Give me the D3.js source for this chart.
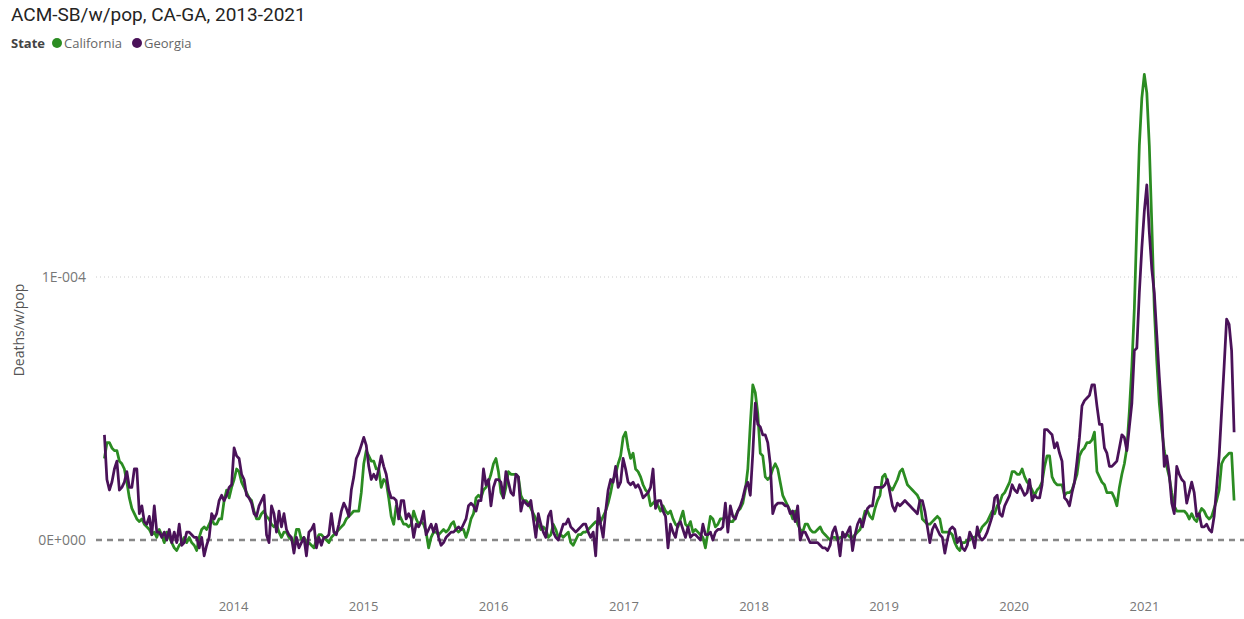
<!DOCTYPE html>
<html>
<head>
<meta charset="utf-8">
<script src="https://cdn.jsdelivr.net/npm/d3@7"></script>
<style>
  body { margin: 0; background: #fff; }
  text { font-family: "Open Sans", sans-serif; }
</style>
</head>
<body>
<script>
// weekly series, units of 1E-006 deaths per week per population
// first week ends 2013-01-05
let firstWeek = new Date(2013, 0, 5)

let california = [
  31, 37, 37, 35, 34, 34, 30, 29, 27, 22,
  16, 12, 10, 8, 7, 8, 6, 5, 4, 2,
  3, 1, 4, 2, -1, 3, 1, -1, -3, -4,
  -2, -1, 1, -1, 1, -1, -2, -4, 1, 4,
  5, 4, 6, 8, 6, 6, 8, 8, 15, 19,
  16, 20, 23, 27, 26, 22, 20, 18, 16, 15,
  11, 8, 8, 10, 11, 9, 8, 6, 5, 6,
  3, 1, 3, 3, 1, 0, -1, 4, 4, 0,
  1, -1, -1, -2, -3, 0, 2, 2, 1, 0,
  -1, 1, 2, 3, 4, 5, 6, 8, 9, 10,
  11, 11, 11, 18, 29, 34, 32, 30, 30, 27,
  27, 20, 23, 22, 16, 9, 6, 13, 10, 8,
  6, 6, 5, 6, 11, 8, 6, 7, 6, 3,
  -3, 1, 3, 3, 2, 3, 4, 3, 4, 6,
  7, 4, 3, 4, 4, 1, 4, 8, 10, 16,
  17, 16, 19, 20, 22, 25, 29, 31, 26, 18,
  16, 20, 26, 25, 25, 25, 24, 17, 15, 15,
  14, 12, 10, 8, 6, 4, 5, 4, 1, 2,
  6, 4, 1, 2, 1, 2, 3, -1, -2, 0,
  2, 2, 3, 3, 4, 5, 6, 7, 6, 7,
  9, 11, 14, 18, 23, 25, 29, 32, 39, 41,
  35, 31, 33, 27, 26, 24, 21, 19, 18, 13,
  14, 15, 13, 11, 13, 11, 10, 11, 8, 6,
  5, 8, 11, 6, 5, 7, 3, 4, 3, 2,
  1, -3, 3, 9, 8, 5, 6, 8, 8, 9,
  8, 7, 7, 9, 11, 12, 14, 19, 27, 44,
  59, 56, 48, 33, 32, 24, 23, 24, 27, 29,
  27, 22, 17, 15, 13, 11, 8, 11, 6, 4,
  3, 6, 6, 4, 3, 3, 4, 5, 3, 2,
  1, 0, 1, 1, 0, 1, 1, 2, 2, 1,
  1, 2, 3, 4, 7, 11, 11, 9, 8, 12,
  15, 17, 24, 25, 22, 20, 19, 21, 23, 26,
  27, 24, 21, 20, 19, 18, 17, 15, 8, 7,
  6, 6, 7, 8, 9, 8, 3, 3, 3, 3,
  2, -1, -3, -4, -1, -1, 0, 0, 1, 1,
  2, 3, 5, 6, 7, 9, 11, 10, 13, 14,
  17, 18, 20, 22, 26, 26, 25, 25, 27, 24,
  22, 21, 19, 17, 19, 20, 22, 28, 32, 32,
  24, 22, 21, 21, 21, 17, 18, 18, 19, 22,
  25, 32, 34, 35, 37, 37, 38, 41, 26, 24,
  22, 21, 18, 18, 18, 16, 13, 20, 25, 29,
  35, 49, 66, 88, 120, 150, 168, 177, 170, 150,
  120, 88, 68, 52, 42, 34, 28, 24, 18, 13,
  11, 11, 11, 11, 10, 8, 10, 8, 7, 10,
  12, 11, 9, 8, 9, 12, 15, 19, 29, 31,
  32, 33, 33, 15
]

let georgia = [
  40, 23, 19, 22, 27, 30, 19, 20, 22, 26,
  20, 20, 27, 27, 10, 13, 7, 6, 9, 2,
  13, 3, 3, 1, 3, 0, 4, -1, 3, -1,
  6, -2, -1, 3, 3, 2, 1, 1, -3, 1,
  -6, -2, 1, 10, 8, 10, 15, 17, 15, 17,
  20, 21, 35, 32, 31, 25, 23, 17, 16, 14,
  10, 9, 13, 15, 17, 2, -1, 13, 10, 3,
  11, 5, 10, 4, 2, 1, -5, 1, -3, -1,
  1, -6, 3, 4, 6, -3, 1, -2, 1, 1,
  2, 10, 3, 2, 6, 11, 14, 12, 9, 19,
  24, 31, 33, 36, 39, 36, 28, 23, 25, 23,
  27, 32, 28, 25, 19, 16, 16, 15, 8, 15,
  15, 8, 10, 8, 1, 6, 5, 7, 11, 2,
  4, 6, 3, 6, 1, -2, -1, 1, 2, 3,
  3, 4, 5, 4, 6, 8, 13, 14, 13, 11,
  15, 15, 27, 21, 23, 13, 20, 23, 23, 22,
  16, 26, 22, 18, 17, 25, 24, 11, 15, 14,
  13, 15, 8, 1, 10, 6, 3, 1, 9, 11,
  3, 1, 0, 3, 6, 6, 8, 5, 4, 3,
  4, 5, 6, 6, 3, 1, 3, -6, 12, 6,
  1, 11, 19, 23, 22, 28, 20, 22, 31, 27,
  22, 21, 22, 20, 21, 19, 16, 17, 18, 20,
  27, 12, 15, 15, 11, 9, -3, 6, 3, 1,
  6, 7, 4, 1, 5, 1, 2, 2, 1, 0,
  6, 2, 2, 3, 0, 3, 4, 4, 5, 14,
  3, 13, 9, 8, 11, 13, 16, 20, 22, 17,
  33, 52, 44, 43, 40, 40, 37, 29, 10, 13,
  14, 14, 14, 13, 13, 10, 11, 7, 13, 0,
  3, 3, 1, -1, -1, -1, -1, -2, -3, -3,
  -4, -2, 3, 5, 1, -6, 3, 1, 3, 5,
  -4, 2, 6, 8, 5, 9, 12, 13, 13, 20,
  20, 20, 20, 21, 23, 18, 13, 11, 14, 13,
  14, 15, 14, 13, 12, 11, 10, 15, 15, 11,
  5, -1, 4, 6, 4, 2, 1, -5, 0, 4,
  5, 4, -1, 1, -3, -4, -2, 3, 1, -3,
  5, 1, 0, 1, 3, 6, 9, 16, 17, 10,
  9, 13, 15, 17, 21, 19, 18, 21, 19, 17,
  18, 23, 15, 17, 16, 16, 21, 42, 42, 41,
  40, 35, 37, 33, 30, 16, 15, 13, 18, 22,
  30, 39, 51, 53, 54, 55, 59, 59, 51, 44,
  44, 35, 33, 28, 28, 29, 30, 35, 40, 39,
  34, 43, 52, 72, 73, 94, 111, 125, 135, 117,
  103, 94, 78, 62, 48, 28, 32, 25, 14, 10,
  28, 25, 23, 22, 14, 18, 22, 18, 9, 10,
  5, 5, 6, 4, 3, 9, 20, 32, 49, 66,
  84, 82, 72, 41
]

let states = ["California", "Georgia"]
let colors = ["#2b8c22", "#4a1259"]
let yearTicks = [2014, 2015, 2016, 2017, 2018, 2019, 2020, 2021]
let yTicks = [0, 1e-4]

let width = 1244
let height = 619

let svg = d3.select("body")
    .append("svg")
    .attr("width", width)
    .attr("height", height)

// scales
let x = d3.scaleTime()
    .domain([new Date(2013, 0, 1), new Date(2022, 0, 1)])
    .range([103, 1274])

let y = d3.scaleLinear()
    .domain([0, 1e-4])
    .range([540, 277])

// 1E-004 style labels
function sci(v) {
  let parts = d3.format(".0e")(v).split("e")
  let sign = parts[1][0] === "-" ? "-" : "+"
  return parts[0] + "E" + sign + String(Math.abs(+parts[1])).padStart(3, "0")
}

// title + legend
svg.append("text")
    .attr("x", 11)
    .attr("y", 21)
    .style("font-family", "Roboto, sans-serif")
    .style("font-size", "19px")
    .style("fill", "#252423")
    .text("ACM-SB/w/pop, CA-GA, 2013-2021")

let legend = svg.append("g").attr("transform", "translate(11,43)")
legend.append("text")
    .attr("dy", "0.35em")
    .style("font-size", "13px")
    .style("font-weight", "bold")
    .style("fill", "#444")
    .text("State")

let legendX = [46, 126]
states.forEach((s, i) => {
  legend.append("circle")
      .attr("cx", legendX[i])
      .attr("cy", 0)
      .attr("r", 5)
      .style("fill", colors[i])
  legend.append("text")
      .attr("x", legendX[i] + 7)
      .attr("dy", "0.35em")
      .style("font-size", "13px")
      .style("fill", "#666")
      .text(s)
})

// gridline + zero line
svg.append("line")
    .attr("x1", 96).attr("x2", 1240)
    .attr("y1", y(1e-4)).attr("y2", y(1e-4))
    .style("stroke", "#ccc")
    .style("stroke-dasharray", "1,3")

svg.append("line")
    .attr("x1", 96).attr("x2", 1244)
    .attr("y1", y(0)).attr("y2", y(0))
    .style("stroke", "#888")
    .style("stroke-width", 2.5)
    .style("stroke-dasharray", "6,5")

// axes
let xAxis = svg.append("g")
    .attr("transform", "translate(0,592)")
    .call(d3.axisBottom(x)
      .tickValues(yearTicks.map(yr => new Date(yr, 0, 1)))
      .tickFormat(d3.timeFormat("%Y"))
      .tickSize(0)
      .tickPadding(10))
xAxis.select(".domain").remove()
xAxis.selectAll("text")
    .style("font-size", "13px")
    .style("fill", "#777")

let yAxis = svg.append("g")
    .attr("transform", "translate(90,0)")
    .call(d3.axisLeft(y)
      .tickValues(yTicks)
      .tickFormat(sci)
      .tickSize(0)
      .tickPadding(4))
yAxis.select(".domain").remove()
yAxis.selectAll("text")
    .style("font-size", "14px")
    .style("fill", "#777")

svg.append("text")
    .attr("transform", "translate(24,330) rotate(-90)")
    .attr("text-anchor", "middle")
    .style("font-size", "14px")
    .style("fill", "#555")
    .text("Deaths/w/pop")

// lines
let line = d3.line()
    .x((d, i) => x(new Date(2013, 0, 5 + 7 * i)))
    .y(d => y(d * 1e-6))

svg.selectAll(".series")
    .data([california, georgia])
    .enter()
    .append("path")
    .attr("class", "series")
    .attr("d", line)
    .style("fill", "none")
    .style("stroke", (d, i) => colors[i])
    .style("stroke-width", 2.75)
    .style("stroke-linejoin", "round")
</script>
</body>
</html>
